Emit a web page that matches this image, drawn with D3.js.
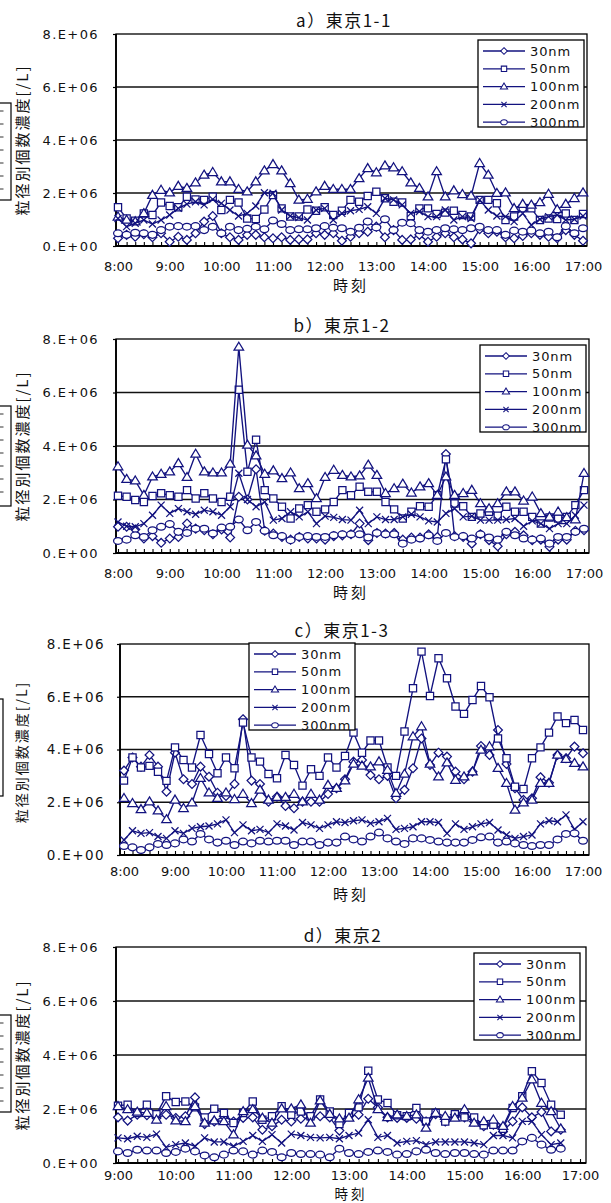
<!DOCTYPE html>
<html>
<head>
<meta charset="utf-8">
<script src="https://cdn.jsdelivr.net/npm/d3@7"></script>
<style>
  body { margin: 0; background: #fff; }
  svg { display: block; }
</style>
</head>
<body>
<svg id="chart" width="611" height="1203"></svg>
<script>
// categories: 10-minute samples
const timesAC = ["8:00","8:10","8:20","8:30","8:40","8:50","9:00","9:10","9:20","9:30","9:40","9:50",
  "10:00","10:10","10:20","10:30","10:40","10:50","11:00","11:10","11:20","11:30","11:40","11:50",
  "12:00","12:10","12:20","12:30","12:40","12:50","13:00","13:10","13:20","13:30","13:40","13:50",
  "14:00","14:10","14:20","14:30","14:40","14:50","15:00","15:10","15:20","15:30","15:40","15:50",
  "16:00","16:10","16:20","16:30","16:40","16:50","17:00"];
const timesD = ["9:00","9:10","9:20","9:30","9:40","9:50",
  "10:00","10:10","10:20","10:30","10:40","10:50","11:00","11:10","11:20","11:30","11:40","11:50",
  "12:00","12:10","12:20","12:30","12:40","12:50","13:00","13:10","13:20","13:30","13:40","13:50",
  "14:00","14:10","14:20","14:30","14:40","14:50","15:00","15:10","15:20","15:30","15:40","15:50",
  "16:00","16:10","16:20","16:30","16:40","16:50","17:00"];
const hoursAC = ["8:00","9:00","10:00","11:00","12:00","13:00","14:00","15:00","16:00","17:00"];
const hoursD = ["9:00","10:00","11:00","12:00","13:00","14:00","15:00","16:00","17:00"];

const sizeLabels = ["30nm","50nm","100nm","200nm","300nm"];
const yTicks = [0, 2, 4, 6, 8];   // x 10^6 /L
const yTickLabels = ["0.E+00","2.E+06","4.E+06","6.E+06","8.E+06"];

// a) 東京1-1  (x 10^6 /L)
const a30  = [0.29,0.42,0.35,0.44,0.33,0.48,0.16,0.35,0.23,0.48, 0.92,1.13,0.48,0.33,0.23,0.42,0.42,0.33,0.29,0.33,
              0.23,0.25,0.25,0.48,0.42,0.48,0.20,0.35,0.48,0.54, 0.73,0.33,0.60,0.23,0.25,0.42,0.16,0.35,0.48,0.33,
              0.25,0.10,0.63,0.48,0.54,0.33,0.29,0.38,0.48,0.42, 0.35,0.29,0.60,0.42,0.20];
const a50  = [1.46,1.04,0.95,1.23,1.17,1.64,1.51,1.46,1.86,1.76, 1.74,1.86,1.36,1.74,1.64,1.04,1.02,1.38,1.92,1.42,
              1.11,1.11,1.38,1.33,1.46,1.17,1.33,1.74,1.67,1.89, 2.05,1.80,1.67,1.64,1.13,1.42,1.42,1.21,1.26,1.33,
              1.17,1.11,1.74,1.74,1.61,0.98,1.11,1.42,1.42,0.98, 1.04,1.02,1.23,0.98,1.21];
const a100 = [1.10,0.98,0.92,1.23,1.92,2.11,2.01,2.26,2.18,2.39, 2.68,2.78,2.43,2.43,2.14,2.05,2.43,2.84,3.08,2.84,
              2.36,1.74,1.77,2.05,2.26,2.14,2.14,2.14,2.55,2.93, 2.77,3.03,2.96,2.81,2.39,2.18,1.86,2.81,1.86,2.09,
              1.95,1.89,3.12,2.68,1.99,2.01,1.42,1.58,1.55,1.64, 1.96,1.38,1.58,1.80,2.01];
const a200 = [1.04,0.73,0.86,0.98,0.83,0.98,1.17,1.42,1.58,1.67, 1.55,1.76,1.61,1.36,1.13,1.23,1.51,2.01,1.99,1.36,
              1.13,1.07,0.98,1.36,1.42,0.98,1.23,1.33,1.38,1.48, 1.23,1.80,1.74,1.55,1.23,1.30,1.11,1.11,1.36,0.98,
              1.11,1.04,1.74,1.36,1.13,1.11,0.92,1.23,0.79,1.01, 1.11,1.17,0.98,1.01,1.13];
const a300 = [0.48,0.42,0.50,0.48,0.42,0.60,0.73,0.75,0.73,0.75, 0.60,0.73,0.48,0.73,0.60,0.65,0.73,0.63,0.96,0.83,
              0.60,0.63,0.63,0.67,0.75,0.69,0.67,0.54,0.69,0.92, 0.70,1.01,0.60,0.88,0.86,0.60,0.54,0.60,0.67,0.63,
              0.60,0.67,0.73,0.60,0.60,0.42,0.58,0.54,0.58,0.48, 0.54,0.33,0.75,0.48,0.67];

// b) 東京1-2
const b30  = [0.98,0.98,0.88,0.54,0.63,0.38,0.54,0.60,1.10,0.91, 0.85,0.70,0.88,0.58,2.10,2.00,3.13,0.83,0.73,0.60,
              0.50,0.60,0.54,0.54,0.50,0.63,0.66,0.70,1.10,0.48, 0.75,0.73,0.75,0.50,0.58,0.58,0.70,0.60,3.70,0.63,
              0.60,0.35,0.70,0.48,0.25,0.70,0.79,0.66,0.48,0.50, 0.23,0.50,0.50,0.83,0.85];
const b50  = [2.14,2.10,1.98,1.91,2.13,2.23,2.16,2.10,2.35,2.04, 2.23,2.04,1.91,2.10,6.10,3.04,4.23,2.35,2.04,1.73,
              1.29,1.66,1.79,1.54,1.63,1.91,2.35,2.16,2.48,2.29, 2.29,1.91,1.63,1.29,1.54,1.75,1.73,2.16,3.50,1.85,
              1.75,1.35,1.48,1.54,1.39,1.73,1.54,1.54,1.35,1.10, 1.33,1.29,1.35,1.79,2.35];
const b100 = [3.23,2.76,2.70,2.16,2.85,2.95,3.04,3.35,2.83,3.70, 3.04,3.00,3.00,3.33,7.70,4.04,3.64,2.95,3.08,2.79,
              3.00,2.41,2.60,2.04,2.83,3.10,2.91,2.85,2.89,3.29, 2.91,2.23,2.41,2.58,2.25,2.48,2.60,2.16,2.85,2.16,
              2.23,2.35,1.85,1.66,1.85,2.29,2.29,1.95,2.10,1.48, 1.35,1.54,1.33,1.25,2.98];
const b200 = [1.16,1.00,0.98,1.10,1.41,1.79,1.48,1.66,1.54,1.45, 1.60,1.54,1.41,1.73,2.98,2.00,1.73,1.91,1.23,1.29,
              1.54,1.35,1.54,1.10,1.38,1.33,1.25,1.23,1.60,1.10, 1.35,1.25,1.25,1.35,1.45,1.35,1.20,1.16,1.48,1.66,
              1.35,1.38,1.23,1.23,1.23,1.25,1.29,1.00,1.20,1.10, 0.91,1.10,1.10,1.41,1.79];
const b300 = [0.45,0.50,0.66,0.60,0.85,0.98,1.08,0.79,0.75,0.91, 0.91,0.73,0.95,0.98,1.25,0.85,1.16,0.83,0.66,0.63,
              0.48,0.60,0.63,0.60,0.60,0.66,0.70,0.70,0.70,0.58, 0.75,0.70,0.70,0.35,0.50,0.54,0.66,0.45,0.75,0.60,
              0.63,0.54,0.70,0.58,0.50,0.79,0.66,0.54,0.50,0.54, 0.35,0.60,0.60,0.79,0.91];

// c) 東京1-3
const c30  = [3.20,3.70,3.35,3.79,3.35,2.40,3.88,2.87,2.69,3.35, 2.97,2.36,2.24,2.69,5.15,2.82,2.69,2.02,2.21,1.86,
              1.77,2.02,2.02,2.02,2.31,2.53,2.87,3.54,3.60,3.03, 2.87,3.00,2.15,2.47,3.29,4.42,3.41,3.88,3.73,3.16,
              2.87,3.16,4.13,3.79,4.74,3.45,2.53,2.09,2.15,2.95, 2.74,3.79,3.67,4.11,3.86];
const c50  = [2.82,3.70,3.32,3.38,3.16,2.81,4.08,3.60,3.32,4.55, 3.83,3.10,3.70,3.29,5.02,3.70,3.54,3.07,2.91,3.79,
              3.41,2.63,3.25,3.00,3.70,3.32,3.75,4.64,3.88,4.34, 4.34,3.32,3.00,4.68,6.32,7.71,6.03,7.46,6.70,5.63,
              5.35,5.88,6.41,5.98,4.42,3.67,2.59,2.50,3.67,4.08, 4.64,5.25,5.00,5.12,4.74];
const c100 = [2.15,1.96,1.73,2.02,1.68,1.35,2.09,1.77,1.98,2.91, 2.36,2.15,2.36,2.11,2.31,1.96,2.47,2.09,2.19,2.19,
              2.31,2.02,2.31,2.09,2.65,2.53,2.82,3.45,3.38,3.35, 3.54,3.22,2.34,3.07,4.49,4.87,3.45,2.97,3.50,2.84,
              2.97,3.16,3.98,4.11,3.29,2.72,1.71,1.98,2.09,2.72, 2.72,3.79,3.63,3.48,3.35];
const c200 = [0.57,0.92,0.82,0.85,0.70,0.63,0.92,0.82,1.01,1.07, 1.10,1.18,1.33,0.85,1.14,0.92,0.97,0.85,1.18,1.10,
              0.95,1.23,1.14,1.01,1.14,1.26,1.23,1.30,1.33,1.20, 1.26,1.39,0.97,1.01,1.07,1.26,1.26,1.23,0.82,1.18,
              0.97,1.07,1.18,1.23,0.95,0.76,0.63,0.70,0.76,1.18, 1.30,1.26,1.52,0.97,1.26];
const c300 = [0.34,0.29,0.19,0.29,0.42,0.38,0.44,0.59,0.51,0.80, 0.59,0.47,0.54,0.38,0.51,0.44,0.54,0.51,0.54,0.54,
              0.38,0.51,0.51,0.38,0.47,0.47,0.70,0.59,0.51,0.70, 0.85,0.63,0.51,0.42,0.63,0.63,0.57,0.51,0.47,0.47,
              0.47,0.57,0.67,0.70,0.47,0.51,0.44,0.38,0.34,0.38, 0.38,0.59,0.80,0.82,0.54];

// d) 東京2  (9:00 - 16:40)
const d30  = [1.69,1.57,1.79,1.77,1.67,1.79,1.67,1.73,2.43,1.44, 1.54,1.73,1.54,1.67,1.69,1.23,1.36,1.60,1.54,1.64,
              1.67,1.73,1.69,1.20,1.73,1.79,2.38,2.06,1.69,1.67, 1.67,1.64,1.54,1.81,1.54,1.79,1.69,1.54,1.36,1.42,
              1.17,1.54,2.06,1.69,1.89,1.17,1.23];
const d50  = [2.12,2.16,1.85,2.16,1.81,2.47,2.26,2.28,2.06,1.69, 2.01,1.85,1.48,1.85,2.28,1.60,1.73,2.10,1.79,1.91,
              1.73,2.35,1.91,1.44,1.85,2.06,3.42,2.35,2.22,1.77, 1.73,2.04,1.54,1.85,1.54,1.81,1.69,1.69,1.40,1.42,
              1.27,2.04,2.47,3.40,2.96,2.16,1.79];
const d100 = [2.10,1.98,1.89,1.85,1.60,2.10,1.57,1.54,2.10,1.48, 1.57,1.54,1.05,1.91,1.98,1.67,1.48,2.01,2.01,2.16,
              1.48,2.31,1.81,1.64,1.67,2.35,3.15,1.98,1.69,1.79, 1.73,1.79,1.30,1.85,1.73,1.67,1.98,1.48,1.54,1.60,
              1.36,2.10,2.41,3.09,2.22,1.91,1.27];
const d200 = [0.93,0.90,0.99,0.95,1.07,0.58,0.68,0.74,0.62,0.93, 0.78,0.78,0.62,0.80,1.02,0.80,1.05,0.74,1.07,1.02,
              0.95,0.93,0.95,0.90,1.02,1.11,1.60,0.95,1.02,0.74, 0.80,0.83,0.68,0.78,0.78,0.78,0.78,0.74,0.68,1.02,
              1.02,0.93,1.54,1.54,1.05,0.68,0.74];
const d300 = [0.43,0.37,0.49,0.46,0.46,0.37,0.41,0.53,0.43,0.28, 0.21,0.31,0.46,0.43,0.31,0.46,0.41,0.21,0.37,0.33,
              0.33,0.31,0.21,0.53,0.37,0.33,0.41,0.46,0.41,0.31, 0.33,0.43,0.49,0.37,0.33,0.37,0.37,0.33,0.31,0.46,
              0.46,0.46,0.80,0.93,0.68,0.49,0.53];

const navy = "#12127f";
const numFont = "'DejaVu Sans', sans-serif";
const jpFont = "'Noto Sans CJK JP', sans-serif";

// marker shapes, one per size class
const markerPaths = [
  "M0,-4.4L4.4,0L0,4.4L-4.4,0Z",              // 30nm diamond
  "M-3.6,-3.6H3.6V3.6H-3.6Z",                  // 50nm square
  "M0,-4.8L4.8,3.2L-4.8,3.2Z",                 // 100nm triangle
  "M-3.5,-3.5L3.5,3.5M-3.5,3.5L3.5,-3.5",      // 200nm cross
  "M-4.4,0A4.4,3.4 0 1,0 4.4,0A4.4,3.4 0 1,0 -4.4,0Z"  // 300nm circle
];

const panels = [
  { title: "a）東京1-1", cats: timesAC, hours: hoursAC, series: [a30, a50, a100, a200, a300],
    l: 116, r: 587, t: 34, b: 246, xr: [118, 583], tx: 344, ty: 27, xlab: 271, xt: 291, xtfs: 15,
    ylx: 99, ytx: 23, yty: 140, ytfs: 15, ylfs: 13, leg: [478, 40], cut: [11, 103, 200] },
  { title: "b）東京1-2", cats: timesAC, hours: hoursAC, series: [b30, b50, b100, b200, b300],
    l: 116, r: 589, t: 339, b: 553, xr: [118, 584], tx: 342, ty: 332, xlab: 578, xt: 598, xtfs: 15,
    ylx: 99, ytx: 23, yty: 446, ytfs: 15, ylfs: 13, leg: [480, 345], cut: [11, 406, 506] },
  { title: "c）東京1-3", cats: timesAC, hours: hoursAC, series: [c30, c50, c100, c200, c300],
    l: 120, r: 589, t: 644, b: 855, xr: [124, 583], tx: 342, ty: 637, xlab: 876, xt: 900, xtfs: 15,
    ylx: 105, ytx: 22.5, yty: 752, ytfs: 14, ylfs: 13.5, leg: [249, 643], cut: [3, 699, 796] },
  { title: "d）東京2", cats: timesD, hours: hoursD, series: [d30, d50, d100, d200, d300],
    l: 116, r: 586, t: 947, b: 1163, xr: [118, 580], tx: 343, ty: 942, xlab: 1180, xt: 1199, xtfs: 13.5,
    ylx: 99, ytx: 23, yty: 1055, ytfs: 15, ylfs: 13, leg: [474, 953], cut: [11, 1015, 1112] }
];

const svg = d3.select("#chart");

function drawPanel(p) {
  const g = svg.append("g");

  const x = d3.scalePoint().domain(p.cats).range(p.xr);
  const y = d3.scaleLinear().domain([0, 8]).range([p.b, p.t]);

  // plot background
  g.append("rect")
    .attr("x", p.l).attr("y", p.t)
    .attr("width", p.r - p.l).attr("height", p.b - p.t)
    .attr("fill", "#fff");

  // gridlines
  g.selectAll(".grid")
    .data(yTicks.filter(d => d > 0 && d < 8))
    .join("line")
    .attr("x1", p.l).attr("x2", p.r)
    .attr("y1", d => y(d)).attr("y2", d => y(d))
    .attr("stroke", "#111").attr("stroke-width", 1.3);

  // y axis
  const yAxis = g.append("g")
    .attr("transform", `translate(${p.l},0)`)
    .call(d3.axisLeft(y).tickValues(yTicks).tickSize(3)
      .tickPadding(p.l - p.ylx - 3)
      .tickFormat((d, i) => yTickLabels[i]));
  yAxis.select(".domain").remove();
  yAxis.selectAll("line").attr("stroke", "#000").attr("stroke-width", 1.2);
  yAxis.selectAll("text")
    .attr("font-family", numFont).attr("font-size", p.ylfs)
    .attr("letter-spacing", 1.4).attr("fill", "#111");

  // x axis: inner ticks on every 10 minutes, labels on the hour
  const xAxis = g.append("g")
    .attr("transform", `translate(0,${p.b})`)
    .call(d3.axisBottom(x).tickSizeInner(-4).tickSizeOuter(0)
      .tickFormat(d => p.hours.includes(d) ? d : ""));
  xAxis.select(".domain").remove();
  xAxis.selectAll("line").attr("stroke", "#000").attr("stroke-width", 1.1);
  xAxis.selectAll("text")
    .attr("y", p.xlab - p.b).attr("dy", 0)
    .attr("font-family", numFont).attr("font-size", 13).attr("fill", "#111");

  // frame
  g.append("rect")
    .attr("x", p.l).attr("y", p.t)
    .attr("width", p.r - p.l).attr("height", p.b - p.t)
    .attr("fill", "none").attr("stroke", "#000").attr("stroke-width", 1.3);
  g.append("line")
    .attr("x1", p.l).attr("x2", p.r).attr("y1", p.b).attr("y2", p.b)
    .attr("stroke", "#000").attr("stroke-width", 2);
  g.append("line")
    .attr("x1", p.l).attr("x2", p.l).attr("y1", p.t).attr("y2", p.b)
    .attr("stroke", "#000").attr("stroke-width", 1.8);

  // series
  const line = d3.line()
    .x((d, i) => x(p.cats[i]))
    .y(d => y(d));

  p.series.forEach((vals, k) => {
    const s = g.append("g");
    s.append("path")
      .datum(vals)
      .attr("d", line)
      .attr("fill", "none")
      .attr("stroke", navy)
      .attr("stroke-width", 1.35);
    s.selectAll("path.mk")
      .data(vals)
      .join("path")
      .attr("class", "mk")
      .attr("d", markerPaths[k])
      .attr("transform", (d, i) => `translate(${x(p.cats[i])},${y(d)})`)
      .attr("fill", k === 3 ? "none" : "#fff")
      .attr("stroke", navy)
      .attr("stroke-width", 1.25);
  });

  // legend
  const [bx, by] = p.leg;
  const leg = g.append("g");
  leg.append("rect")
    .attr("x", bx).attr("y", by).attr("width", 106).attr("height", 87)
    .attr("fill", "#fff").attr("stroke", "#000").attr("stroke-width", 1.3);
  sizeLabels.forEach((lab, k) => {
    const ry = by + 11 + k * 17.8;
    leg.append("line")
      .attr("x1", bx + 5).attr("x2", bx + 47).attr("y1", ry).attr("y2", ry)
      .attr("stroke", navy).attr("stroke-width", 1.3);
    leg.append("path")
      .attr("d", markerPaths[k])
      .attr("transform", `translate(${bx + 26},${ry}) scale(0.75)`)
      .attr("fill", k === 3 ? "none" : "#fff")
      .attr("stroke", navy).attr("stroke-width", 1.4);
    leg.append("text")
      .attr("x", bx + 52).attr("y", ry).attr("dy", "0.36em")
      .attr("font-family", numFont).attr("font-size", 13)
      .attr("letter-spacing", 0.9).attr("fill", "#111")
      .text(lab);
  });

  // title
  g.append("text")
    .attr("x", p.tx).attr("y", p.ty)
    .attr("text-anchor", "middle")
    .attr("font-family", jpFont).attr("font-size", 17)
    .attr("letter-spacing", 1.5).attr("fill", "#111")
    .text(p.title);

  // x axis title
  g.append("text")
    .attr("x", 351).attr("y", p.xt)
    .attr("text-anchor", "middle")
    .attr("font-family", jpFont).attr("font-size", p.xtfs)
    .attr("letter-spacing", 3).attr("fill", "#111")
    .text("時刻");

  // y axis title
  g.append("text")
    .attr("transform", `translate(${p.ytx},${p.yty}) rotate(-90)`)
    .attr("text-anchor", "middle").attr("dy", "0.35em")
    .attr("font-family", jpFont).attr("font-size", p.ytfs)
    .attr("letter-spacing", 2).attr("fill", "#111")
    .text("粒径別個数濃度[/L]");

  // clipped text box on the left edge
  const [cr, ct, cb] = p.cut;
  g.append("rect")
    .attr("x", -10).attr("y", ct).attr("width", cr + 10).attr("height", cb - ct)
    .attr("fill", "none").attr("stroke", "#000").attr("stroke-width", 1.2);
  if (cr > 6) {
    d3.range(ct + 8, cb - 4, 13).forEach(yy => {
      g.append("line")
        .attr("x1", 0).attr("x2", 3.5).attr("y1", yy).attr("y2", yy)
        .attr("stroke", "#333").attr("stroke-width", 1);
    });
  }
}

panels.forEach(drawPanel);
</script>
</body>
</html>
